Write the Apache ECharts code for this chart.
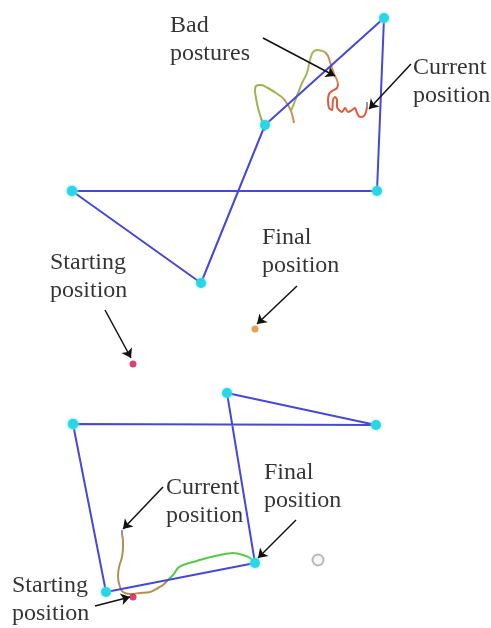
<!DOCTYPE html>
<html>
<head>
<meta charset="utf-8">
<script src="https://cdn.jsdelivr.net/npm/echarts@6/dist/echarts.min.js"></script>
<style>
  html, body { margin: 0; padding: 0; background: #fff; }
  #chart { width: 491px; height: 628px; }
</style>
</head>
<body>
<div id="chart"></div>
<script>
// frame: x to the right, y downward (pixels of the figure)
const topPath = [[72, 191], [377, 191], [384, 18], [265, 125], [201, 283], [72, 191]];
const bottomPath = [[73, 424], [376, 425], [227, 393], [255, 563], [106, 592], [73, 424]];

// top trajectory pieces
const topLoopTip = [[265, 131], [263, 125], [261, 118]];
const topLoopArm = [[261, 118], [258, 108], [256, 98], [255, 91], [256, 86], [261, 85], [268, 88], [276, 93], [283, 98]];
const topLoopEnd = [[283, 98], [288, 105], [291, 111], [293, 118], [294, 123]];
const topStrandGreen = [[291, 111], [295, 101], [302, 83], [307, 73], [310, 60], [313, 52], [318, 50], [325, 52]];
const topStrandBrown = [[325, 52], [328, 56], [330, 62], [332, 68], [334, 74], [337, 80], [338, 84]];
const topStrandRed = [[338, 84], [337, 88], [332, 91], [329, 94], [328, 100], [329, 108], [332, 110], [333, 100],
  [335, 97], [337, 100], [337, 107], [339, 110], [342, 112], [345, 108], [348, 112], [352, 110], [355, 108],
  [357, 113], [360, 117], [364, 116], [366, 112], [367, 107]];
const topStrandTip = [[367, 107], [367, 102]];

// bottom trajectory pieces
const bottomTip = [[122, 530], [122, 535]];
const bottomTan = [[122, 535], [123, 540], [123, 547], [122, 557], [119, 567], [118, 577], [120, 587], [123, 592],
  [130, 594], [140, 593], [150, 592], [158, 588], [163, 585], [168, 580]];
const bottomGreen = [[168, 580], [173, 575], [178, 568], [183, 565], [193, 562], [207, 558], [220, 555],
  [233, 553], [243, 555], [250, 558], [254, 562]];

const startTop = [133, 364];
const finalTop = [255, 329];
const startBottom = [133, 597];
const ringBottom = [318, 560];

const arrows = [
  [[263, 38], [335, 76]],
  [[411, 64], [369, 109]],
  [[105, 310], [131, 358]],
  [[297, 286], [257, 324]],
  [[163, 487], [123, 529]],
  [[296, 520], [258, 558]],
  [[95, 606], [130, 597]]
];

const notes = [
  [170, 12, 'Bad\npostures'],
  [413, 54, 'Current\nposition'],
  [50, 249, 'Starting\nposition'],
  [262, 224, 'Final\nposition'],
  [166, 474, 'Current\nposition'],
  [264, 459, 'Final\nposition'],
  [12, 572, 'Starting\nposition']
];

function curve(data, color) {
  return {
    type: 'line',
    data: data,
    showSymbol: false,
    smooth: 0.3,
    lineStyle: { color: color, width: 2 },
    z: 2
  };
}

function polygon(data) {
  return {
    type: 'line',
    data: data,
    symbol: 'circle',
    symbolSize: 10,
    itemStyle: { color: '#2ad6e6', shadowBlur: 3, shadowColor: '#7fe8f0' },
    lineStyle: { color: '#4747d9', width: 2 },
    z: 3
  };
}

const myChart = echarts.init(document.getElementById('chart'));
const option = {
  animation: false,
  backgroundColor: '#fff',
  grid: { left: 0, right: 0, top: 0, bottom: 0 },
  xAxis: { type: 'value', min: 0, max: 491, show: false },
  yAxis: { type: 'value', min: 0, max: 628, inverse: true, show: false },
  series: [
    curve(topLoopTip, '#b8804a'),
    curve(topLoopArm, '#9cb450'),
    curve(topLoopEnd, '#c89050'),
    curve(topStrandGreen, '#a2b45a'),
    curve(topStrandBrown, '#cc8a55'),
    curve(topStrandRed, '#e05a40'),
    curve(topStrandTip, '#8898b0'),
    curve(bottomTip, '#8898b0'),
    curve(bottomTan, '#b09055'),
    curve(bottomGreen, '#58c848'),
    polygon(topPath),
    polygon(bottomPath),
    {
      type: 'scatter',
      data: [startTop, startBottom],
      symbolSize: 7,
      itemStyle: { color: '#d3124e' },
      z: 4
    },
    {
      type: 'scatter',
      data: [finalTop],
      symbolSize: 7,
      itemStyle: { color: '#e08a2a' },
      z: 4
    },
    {
      type: 'scatter',
      data: [ringBottom],
      symbolSize: 11,
      itemStyle: { color: '#f4f4f4', borderColor: '#a8a8a8', borderWidth: 2 },
      z: 4
    },
    {
      type: 'lines',
      coordinateSystem: 'cartesian2d',
      data: arrows.map(a => ({ coords: a })),
      symbol: ['none', 'arrow'],
      symbolSize: 9,
      lineStyle: { color: '#111', width: 1.5, opacity: 1 },
      z: 5
    },
    {
      type: 'scatter',
      data: notes,
      symbolSize: 0,
      silent: true,
      label: {
        show: true,
        position: [0, 0],
        align: 'left',
        verticalAlign: 'top',
        formatter: p => p.data[2],
        fontFamily: 'Liberation Serif',
        fontSize: 24,
        lineHeight: 28,
        color: '#000'
      },
      z: 6
    }
  ]
};
myChart.setOption(option);
</script>
</body>
</html>
